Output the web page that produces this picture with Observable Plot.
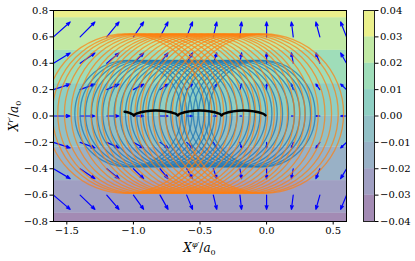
<!DOCTYPE html>
<html>
<head>
<meta charset="utf-8">
<script src="https://cdn.jsdelivr.net/npm/d3@7"></script>
<script src="https://cdn.jsdelivr.net/npm/@observablehq/plot@0.6"></script>
<style>
  html, body { margin: 0; padding: 0; background: #ffffff; }
  #wrap { position: relative; width: 415px; height: 261px; overflow: hidden; }
  #wrap svg { position: absolute; top: 0; }
  #wrap svg, #wrap svg text { font-family: "DejaVu Serif", serif !important; }
</style>
</head>
<body>
<div id="wrap"></div>
<script>
// ---------- data ----------
const xTicks = [-1.5, -1.0, -0.5, 0.0, 0.5];
const yTicks = [-0.8, -0.6, -0.4, -0.2, 0.0, 0.2, 0.4, 0.6, 0.8];
const cbTicks = [-0.04, -0.03, -0.02, -0.01, 0.00, 0.01, 0.02, 0.03, 0.04];

// filled contour bands (horizontal) : edges in y and the level of each band
const bandEdges = [-0.8, -0.737, -0.49, -0.235, 0.0, 0.245, 0.498, 0.745, 0.8];
const bandLevels = [-0.035, -0.025, -0.015, -0.005, 0.005, 0.015, 0.025, 0.035];
const cbEdges = [-0.04, -0.03, -0.02, -0.01, 0.00, 0.01, 0.02, 0.03, 0.04];

// quiver grid: u depends on column, v on row (data units)
const quiverX = [-1.6, -1.4, -1.2, -1.0, -0.8, -0.6, -0.4, -0.2, 0.0, 0.2, 0.4, 0.6];
const quiverU = [0.125, 0.111, 0.092, 0.077, 0.060, 0.044, 0.026, 0.012, 0.0, -0.0135, -0.030, -0.044];
const quiverY = [0.6, 0.4, 0.2, 0.0, -0.2, -0.4, -0.6];
const quiverV = [0.113, 0.078, 0.042, 0.0, -0.042, -0.075, -0.108];

// gyration loops: centres along x, common centre height and radius
const orangeCX = [-1.06, -1.01, -0.97, -0.92, -0.87, -0.82, -0.77, -0.72, -0.68, -0.64, -0.59, -0.54,
                  -0.49, -0.44, -0.39, -0.35, -0.31, -0.26, -0.21, -0.16, -0.11, -0.06, -0.02];
const orangeCY = 0.018, orangeR = 0.598;
const blueCX = [-1.04, -1.0, -0.96, -0.915, -0.87, -0.83, -0.79, -0.745, -0.70, -0.66, -0.62, -0.575,
                -0.53, -0.49, -0.45, -0.405, -0.36, -0.32, -0.28, -0.235, -0.19, -0.15, -0.11, -0.07, -0.035];
const blueCY = 0.018, blueR = 0.40;

// guiding-centre curve (black)
const guideX = [-1.066, -1.045, -1.026, -1.008, -1.0, -0.996,
                -0.992, -0.966, -0.910, -0.832, -0.753, -0.697, -0.671, -0.667,
                -0.663, -0.637, -0.581, -0.503, -0.424, -0.368, -0.342, -0.338,
                -0.334, -0.308, -0.252, -0.174, -0.095, -0.039, -0.013, -0.008];
const guideY = [0.032, 0.028, 0.022, 0.013, 0.008, 0.003,
                0.009, 0.022, 0.035, 0.041, 0.035, 0.022, 0.009, 0.003,
                0.009, 0.022, 0.035, 0.041, 0.035, 0.022, 0.009, 0.003,
                0.009, 0.022, 0.035, 0.041, 0.035, 0.022, 0.009, 0.004];

// ---------- build tables ----------
const bands = bandLevels.map((lv, i) => ({y1: bandEdges[i], y2: bandEdges[i + 1], level: lv}));
const cbCells = cbEdges.slice(0, -1).map((e, i) => ({y1: e, y2: cbEdges[i + 1], level: (e + cbEdges[i + 1]) / 2}));
const arrows = [];
quiverY.forEach((y, j) => quiverX.forEach((x, i) => {
  if (quiverU[i] !== 0 || quiverV[j] !== 0)
    arrows.push({x1: x, y1: y, x2: x + quiverU[i], y2: y + quiverV[j]});
}));
const orangeLoops = orangeCX.map(x => ({x, y: orangeCY, r: orangeR}));
const blueLoops = blueCX.map(x => ({x, y: blueCY, r: blueR}));
const guide = guideX.map((x, i) => ({x, y: guideY[i]}));

const W = 415, H = 261, ML = 53, MR = 69, MT = 10, MB = 40;
const xDomain = [-1.6, 0.6];
const pxPerUnit = (W - ML - MR) / (xDomain[1] - xDomain[0]);
const fmt1 = d3.format(".1f");
const fmt2 = d3.format(".2f");
const colorOpts = {type: "linear", scheme: "viridis", domain: [-0.04, 0.04]};
const font = {fontFamily: "DejaVu Serif", fontSize: "10px", background: "transparent", color: "black"};

const chart = Plot.plot({
  width: W, height: H, marginLeft: ML, marginRight: MR, marginTop: MT, marginBottom: MB,
  style: font,
  x: {domain: xDomain, ticks: xTicks, tickFormat: fmt1, tickSize: 3.5, tickPadding: 2, label: null},
  y: {domain: [-0.8, 0.8], ticks: yTicks, tickFormat: fmt1, tickSize: 3.5, tickPadding: 2, label: null},
  r: {type: "linear", domain: [0, 1], range: [0, pxPerUnit]},
  color: colorOpts,
  marks: [
    Plot.rect(bands, {x1: xDomain[0], x2: xDomain[1], y1: "y1", y2: "y2", fill: "level", fillOpacity: 0.5}),
    Plot.arrow(arrows, {x1: "x1", y1: "y1", x2: "x2", y2: "y2", stroke: "#0000ff", strokeWidth: 1.2,
                        headLength: 5, headAngle: 40, clip: true}),
    Plot.dot(blueLoops, {x: "x", y: "y", r: "r", fill: "none", stroke: "#1f77b4", strokeWidth: 1.3,
                         strokeOpacity: 0.75, clip: true}),
    Plot.dot(orangeLoops, {x: "x", y: "y", r: "r", fill: "none", stroke: "#ff7f0e", strokeWidth: 1.3,
                           strokeOpacity: 0.7, clip: true}),
    Plot.line(guide, {x: "x", y: "y", stroke: "black", strokeWidth: 2.5, curve: "monotone-x"}),
    Plot.frame({stroke: "black", strokeWidth: 1})
  ]
});

const cb = Plot.plot({
  width: 53, height: H, marginLeft: 1, marginRight: 41, marginTop: MT, marginBottom: MB,
  style: font,
  x: {domain: [0, 1], axis: null},
  y: {domain: [-0.04, 0.04], ticks: cbTicks, tickFormat: fmt2, axis: "right", tickSize: 3.5, tickPadding: 2, label: null},
  color: colorOpts,
  marks: [
    Plot.rect(cbCells, {x1: 0, x2: 1, y1: "y1", y2: "y2", fill: "level", fillOpacity: 0.5}),
    Plot.frame({stroke: "#222", strokeWidth: 1})
  ]
});

const wrap = document.getElementById("wrap");
chart.style.left = "0px";
cb.style.left = "362px";
wrap.appendChild(chart);
wrap.appendChild(cb);

// axis labels with super/subscripts
const svg = d3.select(chart);
function label(g, sup) {
  const t = g.append("text").attr("font-size", 12).attr("fill", "black");
  t.append("tspan").attr("font-style", "italic").text("X");
  t.append("tspan").attr("font-size", 8).attr("font-style", "italic").attr("dy", -5).text(sup);
  t.append("tspan").attr("dy", 5).text("/");
  t.append("tspan").attr("font-style", "italic").text("a");
  t.append("tspan").attr("font-size", 8).attr("dy", 2.5).text("0");
  return t;
}
label(svg.append("g"), "\u03c6\u2032").attr("x", 199.5).attr("y", 252).attr("text-anchor", "middle");
label(svg.append("g").attr("transform", "translate(18,116) rotate(-90)"), "r\u2032")
  .attr("x", 0).attr("y", 0).attr("text-anchor", "middle");
</script>
</body>
</html>
